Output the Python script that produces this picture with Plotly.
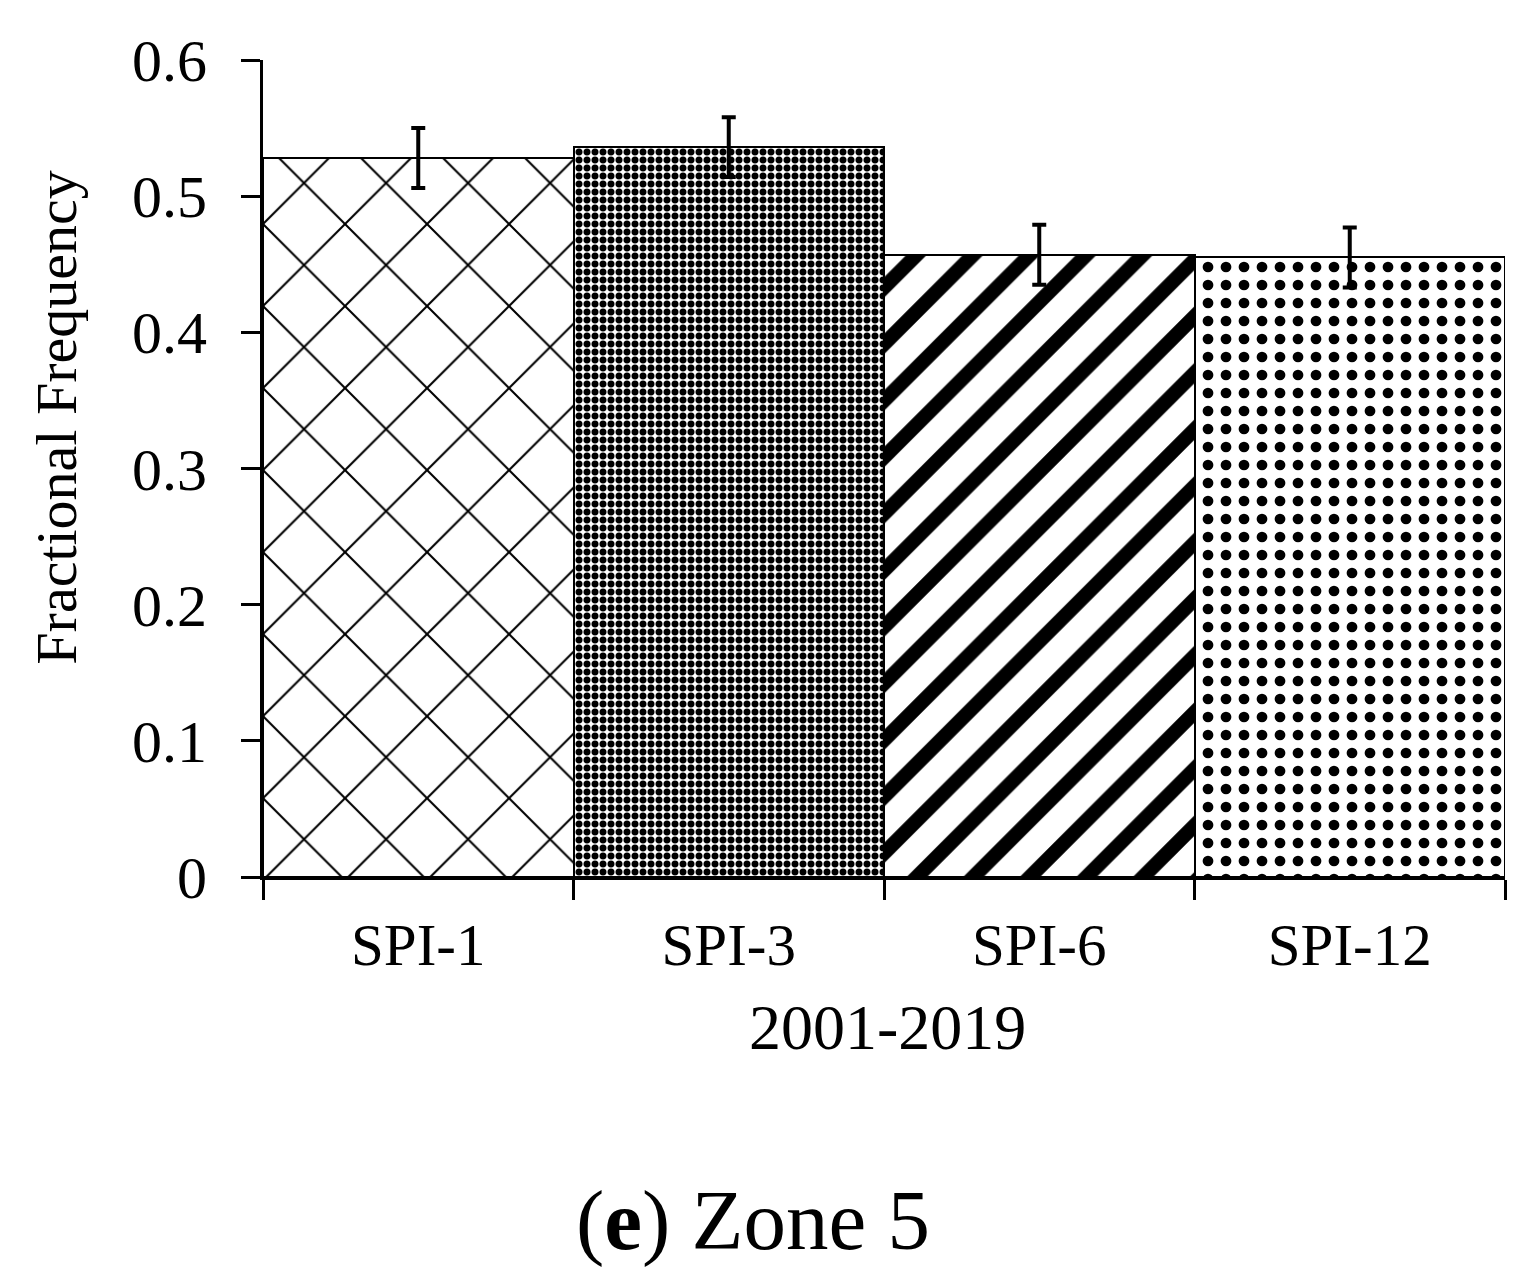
import plotly.graph_objects as go

categories = ["SPI-1", "SPI-3", "SPI-6", "SPI-12"]
values = [0.528, 0.536, 0.457, 0.455]
errors = [0.022, 0.022, 0.022, 0.022]
y_ticks = [0, 0.1, 0.2, 0.3, 0.4, 0.5, 0.6]
y_tick_labels = ["0", "0.1", "0.2", "0.3", "0.4", "0.5", "0.6"]

patterns = ["x", ".", "/", "."]
pattern_sizes = [58, 8, 40, 18]
pattern_solidity = [0.07, 0.6, 0.36, 0.28]

font = "Liberation Serif"

fig = go.Figure()
fig.add_trace(go.Bar(
    x=categories, y=values, width=1.0,
    marker=dict(
        color="white",
        line=dict(color="black", width=2),
        pattern=dict(shape=patterns, size=pattern_sizes, solidity=pattern_solidity,
                     fgcolor="black", bgcolor="white", fgopacity=1, fillmode="replace"),
    ),
    error_y=dict(type="data", array=errors, color="black", thickness=4, width=7),
    showlegend=False,
))

fig.update_layout(
    width=1528, height=1282,
    margin=dict(l=255, r=31, t=52, b=413, autoexpand=False),
    paper_bgcolor="white", plot_bgcolor="white",
    font=dict(family=font, size=60, color="black"),
    bargap=0,
    xaxis=dict(
        showline=True, linecolor="black", linewidth=3,
        ticks="outside", tickson="boundaries", ticklen=20, tickwidth=3, tickcolor="black",
        tickfont=dict(size=59, family=font), ticklabelstandoff=14,
        showgrid=False, automargin=False,
    ),
    yaxis=dict(
        range=[0, 0.6], tickvals=y_ticks, ticktext=y_tick_labels,
        showline=True, linecolor="black", linewidth=3,
        ticks="outside", ticklen=19, tickwidth=3, tickcolor="black",
        tickfont=dict(size=60, family=font), ticklabelstandoff=22,
        showgrid=False, zeroline=False, automargin=False,
    ),
    annotations=[
        dict(text="2001-2019", xref="paper", yref="paper", x=0.503, y=-0.184,
             xanchor="center", yanchor="middle", showarrow=False,
             font=dict(size=64, family=font, color="black")),
        dict(text="Fractional Frequency", xref="paper", yref="paper", x=-0.166, y=0.562,
             xanchor="center", yanchor="middle", showarrow=False, textangle=-90,
             font=dict(size=58, family=font, color="black")),
        dict(text="(<b>e</b>) Zone 5", xref="paper", yref="paper",
             x=0.3945, y=-0.42, xanchor="center", yanchor="middle",
             showarrow=False, font=dict(size=85, family=font, color="black")),
    ],
)

fig.write_html("out.html")
